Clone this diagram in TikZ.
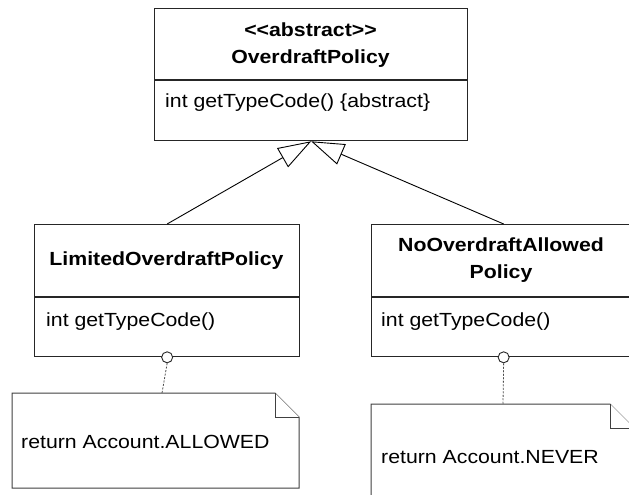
\documentclass[tikz,border=0pt]{standalone}
\usepackage{fontspec}
\setmainfont{Liberation Sans}[FakeStretch=1.12]
\usetikzlibrary{arrows.meta}
\begin{document}
\begin{tikzpicture}[x=1pt,y=-1pt,
  classbox/.style={draw=black!85, line width=1.3pt, fill=white, inner sep=0pt, anchor=north west},
  divider/.style={draw=black!85, line width=1.1pt},
  title/.style={font=\fontsize{19}{27}\selectfont\bfseries, align=center, inner sep=0pt},
  member/.style={font=\fontsize{19}{23}\selectfont, anchor=west, inner sep=0pt},
  inherit/.style={draw=black, line width=0.9pt,
    -{Triangle[open, length=33pt, width=22pt, line width=0.9pt]}},
  port/.style={circle, draw=black!85, fill=white, line width=0.9pt, minimum size=11pt, inner sep=0pt},
  notebox/.style={draw=black!75, line width=1pt, fill=white},
  notetext/.style={font=\fontsize{19}{23}\selectfont, anchor=west, inner sep=0pt},
  link/.style={draw=black!70, line width=0.8pt, dash pattern=on 2pt off 1.5pt}
]
\useasboundingbox (0,0) rectangle (629,495);
\clip (0,0) rectangle (629,495);

% abstract base class
\node[classbox, minimum width=313pt, minimum height=132pt] (abs) at (154,8) {};
\draw[divider] (abs.west |- 0,80) -- (abs.east |- 0,80);
\node[title] (absname) at (310.5,45.5) {<\kern0pt<abstract>\kern0pt>\\OverdraftPolicy};
\node[member] (absop) at (165,103) {int getTypeCode() \{abstract\}};

% subclass: limited overdraft
\node[classbox, minimum width=265pt, minimum height=132pt] (lim) at (34,224) {};
\draw[divider] (lim.west |- 0,297) -- (lim.east |- 0,297);
\node[title] (limname) at (166.5,261) {LimitedOverdraftPolicy};
\node[member] (limop) at (46,322) {int getTypeCode()};

% subclass: no overdraft allowed
\node[classbox, minimum width=264pt, minimum height=132pt] (noo) at (371,224) {};
\draw[divider] (noo.west |- 0,297) -- (noo.east |- 0,297);
\node[title] (nooname) at (501,260) {NoOverdraftAllowed\\Policy};
\node[member] (noop) at (381,322) {int getTypeCode()};

% generalisation arrows
\draw[inherit] (lim.north) -- (abs.south);
\draw[inherit] (noo.north) -- (abs.south);

% notes attached to the operations
\draw[notebox] (12,393) -- (275,393) -- (299,417) -- (299,488) -- (12,488) -- cycle;
\draw[notebox] (275,393) -- (275,417) -- (299,417);
\coordinate (limnote) at (162,393);
\node[notetext] (limret) at (21,442) {return Account.ALLOWED};

\draw[notebox] (371,404) -- (610,404) -- (634,428) -- (634,510) -- (371,510) -- cycle;
\draw[notebox] (610,404) -- (610,428) -- (634,428);
\coordinate (noonote) at (503,404);
\node[notetext] (nooret) at (381,457) {return Account.NEVER};

% lollipop ports and dashed note links
\node[port] (limport) at (lim.south) {};
\node[port] (nooport) at (noo.south) {};
\draw[link] (limport.south) -- (limnote);
\draw[link] (nooport.south) -- (noonote);
\end{tikzpicture}
\end{document}
